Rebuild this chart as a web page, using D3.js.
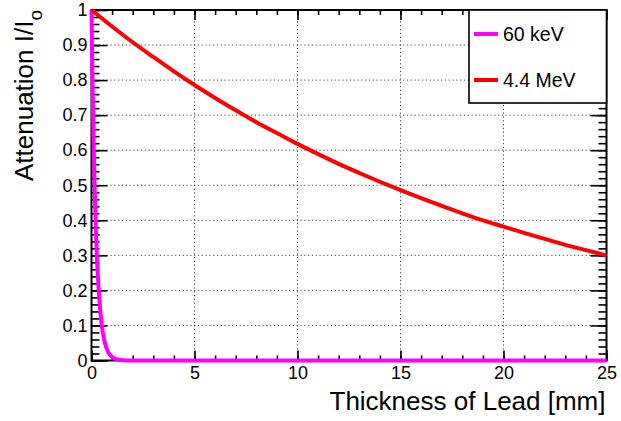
<!DOCTYPE html>
<html>
<head>
<meta charset="utf-8">
<script src="https://cdn.jsdelivr.net/npm/d3@7"></script>
<style>
  body { margin: 0; background: #fff; }
  text { font-family: "Liberation Sans", Arial, Helvetica, sans-serif; fill: #000; }
</style>
</head>
<body>
<div id="chart"></div>
<script>
// values: attenuation I/Io against lead thickness (mm)
const lowX = [0, 0.05, 0.1, 0.15, 0.2, 0.25, 0.3, 0.4, 0.5, 0.6, 0.7, 0.8, 1.0, 1.2, 1.5, 2, 3, 5, 10, 15, 20, 25];
const lowY = [1, 0.79, 0.63, 0.5, 0.4, 0.31, 0.25, 0.16, 0.1, 0.063, 0.04, 0.025, 0.01, 0.004, 0.001, 0, 0, 0, 0, 0, 0, 0];
const highX = [0, 1, 2, 3, 4, 5, 6, 7, 8, 9, 10, 11, 12, 13, 14, 15, 16, 17, 18, 19, 20, 21, 22, 23, 24, 25];
const highY = [1, 0.953, 0.908, 0.866, 0.825, 0.786, 0.749, 0.714, 0.68, 0.649, 0.618, 0.589, 0.561, 0.535, 0.51,
  0.486, 0.463, 0.441, 0.42, 0.4, 0.382, 0.364, 0.347, 0.33, 0.315, 0.3];
const seriesNames = ["60 keV", "4.4 MeV"];
const seriesColors = ["#ff00ff", "#ff0000"];
const xMajor = [0, 5, 10, 15, 20, 25];
const yMajor = [0, 0.1, 0.2, 0.3, 0.4, 0.5, 0.6, 0.7, 0.8, 0.9, 1];

const W = 621, H = 421;
const L = 91.5, R = 606.5, T = 10, B = 360.5;

const svg = d3.select("#chart").append("svg")
	.attr("width", W)
	.attr("height", H);

const x = d3.scaleLinear().domain([0, 25]).range([L, R]);
const y = d3.scaleLinear().domain([0, 1]).range([B, T]);

const xMinor = d3.range(0, 25.001, 1);
const yMinor = d3.range(0, 1.0001, 0.02);

// grid
const grid = svg.append("g")
	.attr("stroke", "#444")
	.attr("stroke-width", 1)
	.attr("stroke-dasharray", "1.2,2.6");
grid.selectAll("line.vx")
	.data(xMajor.slice(1, -1))
	.enter().append("line")
	.attr("x1", d => x(d)).attr("x2", d => x(d))
	.attr("y1", T).attr("y2", B);
grid.selectAll("line.hy")
	.data(yMajor.slice(1, -1))
	.enter().append("line")
	.attr("x1", L).attr("x2", R)
	.attr("y1", d => y(d)).attr("y2", d => y(d));

const fmt = d => String(+d.toFixed(1));

const addAxis = (axis, tx, ty) => {
	const g = svg.append("g")
		.attr("transform", `translate(${tx},${ty})`)
		.call(axis);
	g.select(".domain").remove();
	g.selectAll(".tick line").attr("stroke", "#000").attr("stroke-width", 1.6);
	g.selectAll("text")
		.style("font-family", '"Liberation Sans", Arial, sans-serif')
		.style("font-size", "18px")
		.attr("fill", "#000");
	return g;
};

// y axes (left with labels, right mirrored)
addAxis(d3.axisLeft(y).tickValues(yMinor).tickSize(-8).tickFormat(""), L, 0);
addAxis(d3.axisLeft(y).tickValues(yMajor).tickSize(-16).tickPadding(4).tickFormat(fmt), L, 0);
addAxis(d3.axisRight(y).tickValues(yMinor).tickSize(-8).tickFormat(""), R, 0);
addAxis(d3.axisRight(y).tickValues(yMajor).tickSize(-16).tickFormat(""), R, 0);

// x axes
addAxis(d3.axisBottom(x).tickValues(xMinor).tickSize(-5).tickFormat(""), 0, B);
const xg = addAxis(d3.axisBottom(x).tickValues(xMajor).tickSize(-10).tickPadding(6).tickFormat(fmt), 0, B);
addAxis(d3.axisTop(x).tickValues(xMinor).tickSize(-5).tickFormat(""), 0, T);
addAxis(d3.axisTop(x).tickValues(xMajor).tickSize(-10).tickFormat(""), 0, T);

// frame
svg.append("rect")
	.attr("x", L).attr("y", T)
	.attr("width", R - L).attr("height", B - T)
	.attr("fill", "none")
	.attr("stroke", "#000")
	.attr("stroke-width", 2);

// curves
const line = d3.line()
	.x(d => x(d[0]))
	.y(d => y(d[1]))
	.curve(d3.curveMonotoneX);

const series = [
	d3.zip(lowX, lowY),
	d3.zip(highX, highY)
];

svg.selectAll("path.curve")
	.data(series)
	.enter().append("path")
	.attr("class", "curve")
	.attr("d", d => line(d))
	.attr("fill", "none")
	.attr("stroke", (d, i) => seriesColors[i])
	.attr("stroke-width", 4);

// axis titles
svg.append("text")
	.attr("x", R - 1)
	.attr("y", 410)
	.attr("text-anchor", "end")
	.style("font-size", "26px")
	.text("Thickness of Lead [mm]");

const yt = svg.append("text")
	.attr("transform", "translate(33,10) rotate(-90)")
	.attr("text-anchor", "end")
	.style("font-size", "26px");
yt.append("tspan").text("Attenuation I/I");
yt.append("tspan").attr("dy", 9).style("font-size", "19px").text("o");

// legend
const leg = svg.append("g");
leg.append("rect")
	.attr("x", 469).attr("y", T)
	.attr("width", R - 469).attr("height", 93)
	.attr("fill", "#fff")
	.attr("stroke", "#000")
	.attr("stroke-width", 1.6);
const legY = [34, 80];
seriesNames.forEach((name, i) => {
	leg.append("line")
		.attr("x1", 474).attr("x2", 498)
		.attr("y1", legY[i]).attr("y2", legY[i])
		.attr("stroke", seriesColors[i])
		.attr("stroke-width", 4);
	leg.append("text")
		.attr("x", 503)
		.attr("y", legY[i])
		.attr("dy", "0.36em")
		.style("font-size", "19.5px")
		.text(name);
});
</script>
</body>
</html>
